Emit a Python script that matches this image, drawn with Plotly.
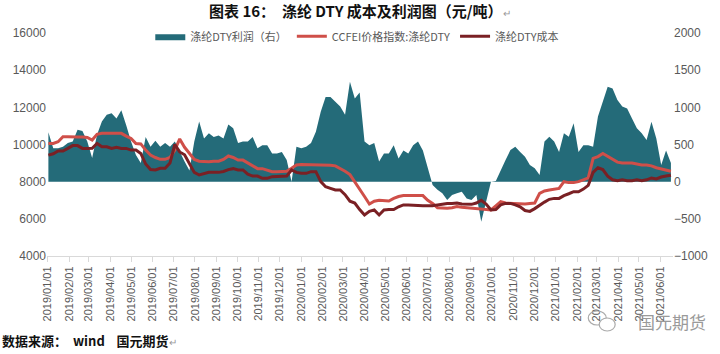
import pandas as pd
import plotly.graph_objects as go

# weekly observation dates (2019-01-02 .. 2021-06-16)
dates = pd.date_range("2019-01-02", periods=129, freq="7D")

# 涤纶DTY利润 (right axis, 元/吨)
profit = [
    664, 450, 450, 470, 520, 540, 700, 680, 540, 320,
    630, 810, 900, 920, 850, 960, 760, 540, 360, 250,
    600, 470, 550, 470, 520, 470, 540, 400, 270, 150,
    540, 810, 580, 650, 600, 620, 580, 770, 720, 520,
    540, 540, 600, 450, 490, 490, 380, 380, 400, 290,
    0, 470, 450, 470, 520, 670, 940, 1140, 1140, 1075,
    1010, 900, 1344, 1120, 1200, 540, 490, 520, 270, 380,
    380, 490, 310, 420, 380, 490, 540, 420, 180, -45,
    -110, -155, -245, -180, -155, -135, -225, -245, -180, -540,
    -270, 0, 10, 160, 290, 425, 470, 400, 336, 225,
    180, 90, 540, 605, 540, 400, 650, 605, 785, 400,
    490, 490, 470, 875, 1075, 1277, 1255, 1100, 1010, 985,
    850, 720, 650, 560, 805, 580, 225, 420, 250,
]

# CCFEI价格指数:涤纶DTY (left axis)
price = [
    10060, 10060, 10150, 10420, 10420, 10400, 10400, 10400, 10380, 10240,
    10545, 10600, 10600, 10600, 10600, 10600, 10450, 10330, 10050, 10030,
    9700, 9430, 9300, 9200, 9200, 9300, 9700, 10300, 9850, 9520,
    9200, 9100, 9070, 9070, 9100, 9100, 9200, 9380, 9300, 9160,
    9160, 9000, 8860, 8700, 8700, 8600, 8540, 8540, 8540, 8560,
    8720, 8900, 8920, 8920, 8920, 8900, 8900, 8900, 8880, 8850,
    8720, 8560, 8380, 8000, 7640, 7200, 6800, 6950, 7000, 6960,
    6960, 7100, 7200, 7250, 7250, 7280, 7280, 7250, 7000, 6830,
    6600, 6570, 6570, 6600, 6660, 6620, 6600, 6560, 6560, 6530,
    6500, 6480, 6700, 6920, 6850, 6830, 6830, 6830, 6800, 6830,
    6850, 7370, 7500, 7550, 7600, 7640, 8000, 7950, 7950, 8000,
    8100, 8200, 9250, 9350, 9520, 9350, 9200, 9050, 9000, 9000,
    9000, 8950, 8900, 8900, 8850, 8750, 8700, 8650, 8560,
]

# 涤纶DTY成本 (left axis)
cost = [
    9430, 9500, 9650, 9650, 9790, 9940, 9940, 9790, 9790, 9800,
    10060, 9880, 9880, 9790, 9850, 9790, 9790, 9700, 9700, 9520,
    8950, 8650, 8630, 8720, 8720, 9000, 10000, 9600, 9450, 9000,
    8500, 8360, 8450, 8500, 8500, 8500, 8550, 8650, 8700, 8630,
    8630, 8400, 8300, 8300, 8180, 8180, 8270, 8270, 8270, 8300,
    8630, 8500, 8450, 8450, 8540, 8540, 8000, 7730, 7640, 7550,
    7550, 7300, 6950, 6850, 6500, 6210, 6400, 6480, 6210, 6480,
    6500, 6500, 6650, 6750, 6750, 6750, 6720, 6700, 6700, 6700,
    6750, 6800, 6830, 6830, 6850, 6800, 6780, 6780, 6850, 7000,
    6800, 6480, 6500, 6750, 6830, 6830, 6750, 6650, 6450, 6400,
    6550, 6750, 6900, 7050, 7100, 7100, 7250, 7350, 7460, 7460,
    7600, 7800, 8500, 8750, 8650, 8300, 8100, 8050, 8100, 8050,
    8050, 8100, 8050, 8100, 8200, 8150, 8250, 8300, 8350,
]

tick_dates = pd.date_range("2019-01-01", "2021-06-01", freq="MS")
tick_text = [d.strftime("%Y/%m/%d") for d in tick_dates]

TEAL = "#246B79"
RED = "#CF4F49"
DARK = "#7A2024"
GREY = "#595959"
FONT = "Noto Sans CJK SC"

fig = go.Figure()
# area on base axis (drawn first, underneath)
fig.add_trace(go.Scatter(
    x=dates, y=profit, name="涤纶DTY利润（右）", yaxis="y",
    mode="lines", line=dict(width=0, color=TEAL), fill="tozeroy",
    fillcolor=TEAL,
))
# lines on overlaying axis (drawn on top)
fig.add_trace(go.Scatter(
    x=dates, y=price, name="CCFEI价格指数:涤纶DTY", mode="lines", yaxis="y2",
    line=dict(color=RED, width=3),
))
fig.add_trace(go.Scatter(
    x=dates, y=cost, name="涤纶DTY成本", mode="lines", yaxis="y2",
    line=dict(color=DARK, width=3),
))

fig.update_layout(
    width=720, height=354,
    margin=dict(l=47, r=45, t=33, b=98),
    paper_bgcolor="white", plot_bgcolor="white",
    font=dict(family=FONT, size=11, color=GREY),
    showlegend=True,
    legend=dict(orientation="h", x=0.165, y=0.985, xanchor="left", yanchor="middle",
                font=dict(size=11, color=GREY), bgcolor="rgba(0,0,0,0)",
                itemwidth=30, tracegroupgap=0, traceorder="normal"),
    xaxis=dict(
        type="date", range=["2018-12-31", "2021-06-19"],
        tickvals=tick_dates, ticktext=tick_text, tickangle=-90,
        tickfont=dict(size=11, color=GREY, family="Liberation Sans"),
        showgrid=False, showline=True, linecolor="#D9D9D9", linewidth=1,
        ticks="outside", ticklen=5, tickcolor="#D9D9D9", zeroline=False,
    ),
    yaxis=dict(
        range=[-1000, 2000], dtick=500, side="right", tickformat="d",
        showgrid=False, zeroline=False,
        tickfont=dict(size=12, color=GREY, family="Liberation Sans"),
        ticks="", showline=False,
    ),
    yaxis2=dict(
        range=[4000, 16000], dtick=2000, overlaying="y", side="left", tickformat="d",
        showgrid=False, zeroline=False,
        tickfont=dict(size=12, color=GREY, family="Liberation Sans"),
        ticks="", showline=False,
    ),
)

fig.add_annotation(
    xref="paper", yref="paper", x=0.5, y=1, yshift=23, xanchor="center", yanchor="middle",
    text="<b>图表 16：  涤纶 DTY 成本及利润图（元/吨）</b><span style='color:#999;font-size:10px'>↵</span>",
    showarrow=False, font=dict(family=FONT, size=15, color="#111"),
)
fig.add_annotation(
    xref="paper", yref="paper", x=0, xshift=-47, y=0, yshift=-84, xanchor="left", yanchor="middle",
    text="<b>数据来源：  wind    国元期货</b><span style='color:#999;font-size:10px'>↵</span>",
    showarrow=False, font=dict(family=FONT, size=13, color="#111"),
)
fig.add_annotation(
    xref="paper", yref="paper", x=1, xshift=35, y=0, yshift=-65, xanchor="right", yanchor="middle",
    text="国元期货", showarrow=False, font=dict(family=FONT, size=17, color="#9A9A9A"),
)
# WeChat-like watermark icon
fig.add_shape(type="circle", xref="paper", yref="paper",
              x0=1.0 - (675 - 590) / 628, x1=1.0 - (675 - 608) / 628,
              y0=-(325 - 256) / 223, y1=-(311 - 256) / 223,
              line=dict(color="#AAAAAA", width=1.2))
fig.add_shape(type="circle", xref="paper", yref="paper",
              x0=1.0 - (675 - 601) / 628, x1=1.0 - (675 - 617) / 628,
              y0=-(331 - 256) / 223, y1=-(318 - 256) / 223,
              line=dict(color="#AAAAAA", width=1.2), fillcolor="white")

fig.write_html("out.html")
